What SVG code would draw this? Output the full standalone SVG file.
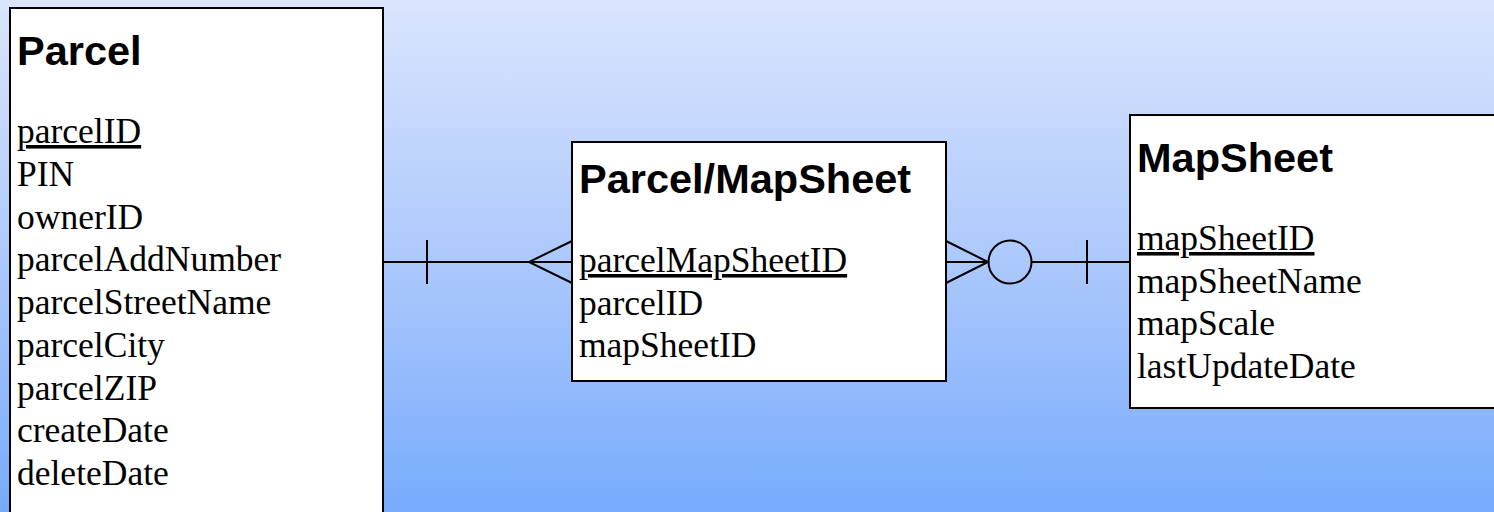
<svg xmlns="http://www.w3.org/2000/svg" width="1494" height="512" viewBox="0 0 1494 512">
  <defs>
    <linearGradient id="bg" x1="0" y1="0" x2="0" y2="1">
      <stop offset="0" stop-color="#dae5fd"/>
      <stop offset="0.5" stop-color="#adc9fc"/>
      <stop offset="1" stop-color="#77abfc"/>
    </linearGradient>
    <style>
      .box { fill: #ffffff; stroke: #000000; stroke-width: 2; }
      .title { font-family: "Liberation Sans", Arial, sans-serif; font-weight: bold; font-size: 41.5px; fill: #000000; }
      .attr { font-family: "Liberation Serif", "Times New Roman", serif; font-size: 35.5px; fill: #000000; }
      .key { text-decoration: underline; }
      .conn { fill: none; stroke: #000000; stroke-width: 2; }
    </style>
  </defs>

  <!-- background -->
  <rect x="0" y="0" width="1494" height="512" fill="url(#bg)"/>

  <!-- connectors -->
  <g id="connectors">
    <!-- Parcel (one) to Parcel/MapSheet (many) -->
    <g id="rel-parcel">
      <line class="conn" x1="384" y1="262" x2="572" y2="262"/>
      <line class="conn" x1="427" y1="240" x2="427" y2="284"/>
      <polyline class="conn" points="572,241 529,262 572,283"/>
    </g>
    <!-- MapSheet (one) to Parcel/MapSheet (zero or many) -->
    <g id="rel-mapsheet">
      <line class="conn" x1="946" y1="262" x2="988" y2="262"/>
      <polyline class="conn" points="946,241 988,262 946,283"/>
      <circle class="conn" cx="1010" cy="262" r="21.5"/>
      <line class="conn" x1="1031.5" y1="262" x2="1130" y2="262"/>
      <line class="conn" x1="1087" y1="240" x2="1087" y2="284"/>
    </g>
  </g>

  <!-- Parcel entity -->
  <g id="parcel">
    <rect class="box" x="10" y="8" width="373" height="520"/>
    <text class="title" x="17" y="65">Parcel</text>
    <text class="attr key" x="17" y="143">parcelID</text>
    <text class="attr" x="17" y="185.75">PIN</text>
    <text class="attr" x="17" y="228.5">ownerID</text>
    <text class="attr" x="17" y="271.25">parcelAddNumber</text>
    <text class="attr" x="17" y="314">parcelStreetName</text>
    <text class="attr" x="17" y="356.75">parcelCity</text>
    <text class="attr" x="17" y="399.5">parcelZIP</text>
    <text class="attr" x="17" y="442.25">createDate</text>
    <text class="attr" x="17" y="485">deleteDate</text>
  </g>

  <!-- Parcel/MapSheet associative entity -->
  <g id="parcel-mapsheet">
    <rect class="box" x="572" y="142" width="374" height="239"/>
    <text class="title" x="579" y="193">Parcel/MapSheet</text>
    <text class="attr key" x="579" y="272">parcelMapSheetID</text>
    <text class="attr" x="579" y="314.5">parcelID</text>
    <text class="attr" x="579" y="357">mapSheetID</text>
  </g>

  <!-- MapSheet entity -->
  <g id="mapsheet">
    <rect class="box" x="1130" y="115" width="380" height="293"/>
    <text class="title" x="1137" y="172">MapSheet</text>
    <text class="attr key" x="1137" y="250">mapSheetID</text>
    <text class="attr" x="1137" y="292.7">mapSheetName</text>
    <text class="attr" x="1137" y="335.4">mapScale</text>
    <text class="attr" x="1137" y="378">lastUpdateDate</text>
  </g>
</svg>
